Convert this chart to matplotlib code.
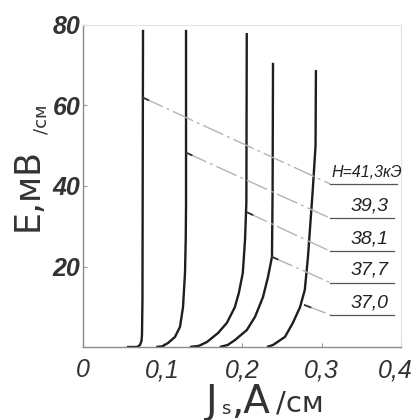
import matplotlib
matplotlib.use("Agg")
import matplotlib.pyplot as plt
from matplotlib.transforms import ScaledTranslation

# ---- data ----
curve1_J = [0.0553, 0.068, 0.0717, 0.0736, 0.0742, 0.0748, 0.0755]
curve1_E = [0, 0, 0.5, 1.5, 3, 11.7, 78.8]
curve2_J = [0.092, 0.1, 0.107, 0.1157, 0.122, 0.1258, 0.1283, 0.1292, 0.1296, 0.1296]
curve2_E = [0, 0.2, 1.0, 2.5, 5.0, 9.9, 18.4, 26.6, 35, 78.8]
curve3_J = [0.1346, 0.146, 0.156, 0.17, 0.181, 0.191, 0.196, 0.201, 0.2038, 0.2055, 0.206]
curve3_E = [0, 0.3, 1.25, 3.5, 6.0, 9.9, 13.4, 18.4, 26.6, 36, 78]
curve4_J = [0.172, 0.182, 0.191, 0.206, 0.2164, 0.2264, 0.2327, 0.2377, 0.2385, 0.239]
curve4_E = [0, 0.5, 1.7, 4.2, 7.5, 12.4, 17.4, 22.4, 39, 70.6]
curve5_J = [0.2314, 0.239, 0.254, 0.264, 0.273, 0.279, 0.283, 0.289, 0.2925, 0.293]
curve5_E = [0, 0.5, 2.5, 6.0, 9.9, 14.2, 22.4, 39, 50, 68.8]

field_labels = ["H=41,3кЭ", "39,3", "38,1", "37,7", "37,0"]
guide_start_J = [0.075, 0.1296, 0.206, 0.2377, 0.279]
guide_start_E = [62.0, 48.3, 33.5, 22.4, 10.4]
guide_end_J = 0.311
guide_level_E = [40.5, 32.0, 23.8, 16.0, 8.0]
shelf_end_J = [0.395, 0.391, 0.391, 0.391, 0.391]

x_ticks = [0, 0.1, 0.2, 0.3, 0.4]
x_ticklabels = ["0", "0,1", "0,2", "0,3", "0,4"]
y_ticks = [20, 40, 60, 80]
y_ticklabels = ["20", "40", "60", "80"]

curves = [(curve1_J, curve1_E), (curve2_J, curve2_E), (curve3_J, curve3_E),
          (curve4_J, curve4_E), (curve5_J, curve5_E)]

FONT = "Liberation Sans"
W, H = 412, 420
fig = plt.figure(figsize=(W / 100, H / 100), dpi=100)
fig.patch.set_facecolor("white")
ax = fig.add_axes([83 / W, 1 - 347 / H, (401 - 83) / W, (347 - 25) / H])
ax.set_xlim(0, 0.4)
ax.set_ylim(0, 80)

for J, E in curves:
    ax.plot(J, E, color="#1e1e1e", lw=1.7, solid_capstyle="butt", solid_joinstyle="round")

for i in range(len(field_labels)):
    ax.plot([guide_start_J[i], guide_end_J], [guide_start_E[i], guide_level_E[i]],
            color="#b4b4b4", lw=1.0, dashes=(16, 3, 2, 3))
    # short dark mark at the curve
    dj = 0.007
    slope = (guide_level_E[i] - guide_start_E[i]) / (guide_end_J - guide_start_J[i])
    ax.plot([guide_start_J[i], guide_start_J[i] + dj],
            [guide_start_E[i], guide_start_E[i] + slope * dj], color="#333333", lw=1.3)
    ax.plot([guide_end_J, shelf_end_J[i]], [guide_level_E[i], guide_level_E[i]],
            color="#555555", lw=0.9)
    if i == 0:
        ax.text(guide_end_J + 0.001, guide_level_E[i] + 0.9, field_labels[i],
                ha="left", va="bottom", fontsize=11.5, color="#222222",
                family=FONT, style="italic")
    else:
        ax.text(0.36, guide_level_E[i] + 0.9, field_labels[i],
                ha="center", va="bottom", fontsize=14, color="#222222",
                family=FONT, style="italic")

ax.set_xticks(x_ticks)
ax.set_xticklabels(x_ticklabels, family=FONT, style="italic",
                   fontsize=18, color="#333333")
ax.set_yticks(y_ticks)
ax.set_yticklabels(y_ticklabels, family=FONT, style="italic",
                   fontsize=18, color="#333333", fontweight="bold")
ax.tick_params(axis="both", direction="in", length=3, width=0.8, color="#999999")
ax.tick_params(axis="x", pad=8)
ax.tick_params(axis="y", pad=2)
last = ax.get_xticklabels()[-1]
last.set_transform(last.get_transform() + ScaledTranslation(-6 / 100, 0, fig.dpi_scale_trans))

for side in ["left", "bottom"]:
    ax.spines[side].set_color("#8a8a8a")
    ax.spines[side].set_linewidth(1.0)
for side in ["top", "right"]:
    ax.spines[side].set_color("#e2e2e2")
    ax.spines[side].set_linewidth(0.8)

# axis titles
fig.text(28 / W, 1 - 231 / H, "E,мВ", rotation=90, ha="center", va="bottom",
         fontsize=25, color="#333333", family="DejaVu Sans")
fig.text(41 / W, 1 - 134 / H, "/см", rotation=90, ha="center", va="bottom",
         fontsize=13, color="#333333", family="DejaVu Sans")

fig.text(206 / W, 1 - 402 / H, "J", ha="left", va="center",
         fontsize=28, color="#333333", family="DejaVu Sans")
fig.text(221 / W, 1 - 409 / H, "s", ha="left", va="center",
         fontsize=13, color="#333333", family="DejaVu Sans")
fig.text(231 / W, 1 - 402 / H, ",A", ha="left", va="center",
         fontsize=28, color="#333333", family="DejaVu Sans")
fig.text(276 / W, 1 - 404 / H, "/см", ha="left", va="center",
         fontsize=21, color="#333333", family="DejaVu Sans")

fig.savefig("out.png", dpi=100, facecolor="white")
